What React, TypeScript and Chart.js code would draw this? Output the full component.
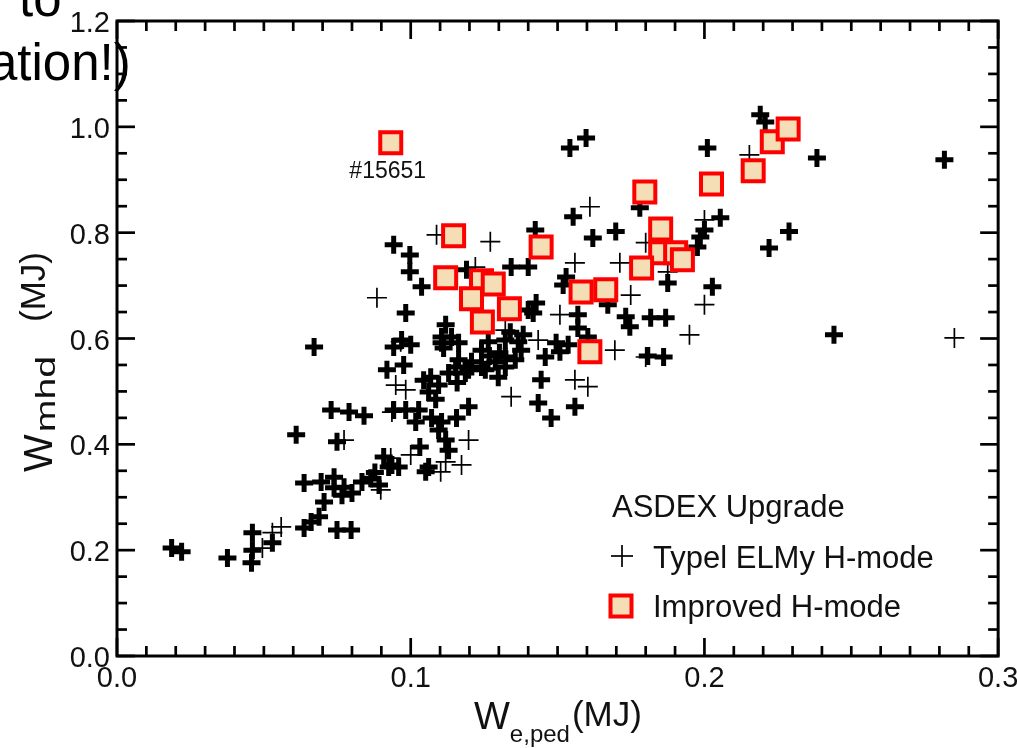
import React, { useEffect, useRef } from 'react';
import { Chart, registerables } from 'chart.js';

Chart.register(...registerables);

// ---- axes ----
const xMin = 0.0;
const xMax = 0.3;
const yMin = 0.0;
const yMax = 1.2;
const xTickValues = [0.0, 0.1, 0.2, 0.3];
const xTickLabels = ['0.0', '0.1', '0.2', '0.3'];
const yTickValues = [0.0, 0.2, 0.4, 0.6, 0.8, 1.0, 1.2];
const yTickLabels = ['0.0', '0.2', '0.4', '0.6', '0.8', '1.0', '1.2'];
const xMinorStep = 0.01;
const yMinorStep = 0.05;

// ---- texts ----
const legendTitle = 'ASDEX Upgrade';
const improvedName = 'Improved H-mode';
const elmyName = 'Typel ELMy H-mode';
const annotationText = '#15651';

// ---- Improved H-mode (squares) ----
const improvedX = [0.0932, 0.1146, 0.1444, 0.1119, 0.1241, 0.1281, 0.1207, 0.1336, 0.1244, 0.158, 0.1664,
  0.161, 0.1797, 0.1851, 0.1851, 0.1902, 0.1925, 0.1786, 0.2024, 0.2166, 0.2231, 0.2285];
const improvedY = [0.970, 0.794, 0.773, 0.715, 0.709, 0.703, 0.675, 0.656, 0.631, 0.688, 0.692,
  0.575, 0.877, 0.807, 0.762, 0.762, 0.749, 0.733, 0.892, 0.917, 0.972, 0.996];

// ---- Type I ELMy H-mode (crosses, bold print) ----
const elmyX = [0.0186, 0.022, 0.0376, 0.0461, 0.0461, 0.0458, 0.0529, 0.0637, 0.0661, 0.0688, 0.0705, 0.0749,
  0.0797, 0.0637, 0.0695, 0.0739, 0.0766, 0.08, 0.0834, 0.0864, 0.0892, 0.061, 0.0729, 0.079, 0.0841, 0.0749,
  0.0671, 0.0908, 0.0936, 0.0925, 0.0959, 0.0919, 0.0976, 0.0942, 0.1, 0.1105, 0.1112, 0.0942, 0.0983, 0.1027,
  0.1017, 0.1071, 0.1105, 0.1156, 0.1197, 0.1095, 0.1119, 0.1129, 0.1061, 0.1051, 0.1068, 0.1095, 0.1061,
  0.1153, 0.1197, 0.1241, 0.1163, 0.1129, 0.1186, 0.1254, 0.1288, 0.1322, 0.1356, 0.1376, 0.1241, 0.1264,
  0.1119, 0.1139, 0.1298, 0.1322, 0.1458, 0.1508, 0.1444, 0.1434, 0.1559, 0.1478, 0.1495, 0.1536, 0.1569,
  0.1603, 0.1339, 0.1366, 0.1427, 0.1417, 0.1569, 0.1732, 0.1746, 0.1817, 0.1868, 0.1807, 0.1861, 0.2441,
  0.1671, 0.2027, 0.1875, 0.1976, 0.1986, 0.2, 0.2054, 0.178, 0.1698, 0.162, 0.1553, 0.1424, 0.1597, 0.1542,
  0.219, 0.2207, 0.201, 0.2383, 0.2817, 0.2288, 0.222, 0.0942, 0.0997, 0.0997, 0.1037, 0.0983, 0.119, 0.1342,
  0.14, 0.1529, 0.1519, 0.14, 0.1322, 0.0969, 0.1105, 0.1163, 0.0739, 0.0773,
  0.1044, 0.1085, 0.1158, 0.1207, 0.1302, 0.1031, 0.0878, 0.1268, 0.1383];
const elmyY = [0.204, 0.197, 0.185, 0.233, 0.2, 0.176, 0.214, 0.242, 0.253, 0.263, 0.291, 0.238,
  0.238, 0.327, 0.329, 0.318, 0.304, 0.308, 0.329, 0.336, 0.323, 0.418, 0.465, 0.461, 0.454, 0.405,
  0.584, 0.376, 0.361, 0.357, 0.357, 0.541, 0.55, 0.584, 0.588, 0.603, 0.582, 0.465, 0.465, 0.465,
  0.442, 0.45, 0.442, 0.45, 0.471, 0.427, 0.408, 0.389, 0.357, 0.348, 0.527, 0.512, 0.499,
  0.546, 0.541, 0.546, 0.56, 0.535, 0.535, 0.541, 0.556, 0.546, 0.56, 0.578, 0.578, 0.594,
  0.626, 0.603, 0.527, 0.565, 0.565, 0.575, 0.522, 0.478, 0.471, 0.45, 0.592, 0.588, 0.62,
  0.603, 0.612, 0.594, 0.667, 0.648, 0.645, 0.641, 0.622, 0.639, 0.639, 0.567, 0.565, 0.607,
  0.664, 0.698, 0.705, 0.773, 0.792, 0.805, 0.828, 0.847, 0.802, 0.79, 0.83, 0.805, 0.979, 0.96,
  1.023, 1.009, 0.96, 0.941, 0.938, 0.802, 0.771, 0.777, 0.758, 0.726, 0.698, 0.648, 0.73, 0.735,
  0.735, 0.716, 0.701, 0.654, 0.597, 0.597, 0.592, 0.592, 0.338, 0.319,
  0.521, 0.485, 0.517, 0.556, 0.573, 0.395, 0.347, 0.567, 0.607];

// ---- Type I ELMy H-mode (crosses, light print) ----
const elmyLightX = [0.0495, 0.0529, 0.0559, 0.0898, 0.0773, 0.0949, 0.0966, 0.0983, 0.0936, 0.0932, 0.1,
  0.1119, 0.1173, 0.1102, 0.1197, 0.1342, 0.1559, 0.1603, 0.1434, 0.1508, 0.1695, 0.1749, 0.1712, 0.1875,
  0.2, 0.1949, 0.2851, 0.2, 0.2153, 0.161, 0.18, 0.1559, 0.1271, 0.1088, 0.122, 0.0885, 0.18, 0.1322];
const elmyLightY = [0.204, 0.233, 0.244, 0.314, 0.408, 0.512, 0.594, 0.503, 0.461, 0.374, 0.38,
  0.367, 0.361, 0.348, 0.408, 0.49, 0.522, 0.509, 0.597, 0.645, 0.578, 0.682, 0.743, 0.726,
  0.664, 0.607, 0.601, 0.824, 0.947, 0.849, 0.781, 0.743, 0.783, 0.796, 0.735, 0.677, 0.565, 0.616];

const toPoints = (xs: number[], ys: number[]) => xs.map((v, i) => ({ x: v, y: ys[i] }));

const FONT = "'Liberation Sans', Arial, sans-serif";
const SQUARE_FILL = '#f5deb6';
const SQUARE_EDGE = '#ff0000';

const decorPlugin = {
  id: 'decor',
  afterDraw(chart: any) {
    const { ctx, chartArea: a } = chart;
    const xs = chart.scales.x;
    const ys = chart.scales.y;
    ctx.save();
    ctx.strokeStyle = '#000';
    ctx.fillStyle = '#000';

    // frame
    ctx.lineWidth = 3;
    ctx.strokeRect(a.left, a.top, a.right - a.left, a.bottom - a.top);

    const seg = (x1: number, y1: number, x2: number, y2: number) => {
      ctx.beginPath();
      ctx.moveTo(x1, y1);
      ctx.lineTo(x2, y2);
      ctx.stroke();
    };
    ctx.lineWidth = 2.7;
    const nx = Math.round((xMax - xMin) / xMinorStep);
    for (let i = 0; i <= nx; i++) {
      const v = xMin + i * xMinorStep;
      const major = xTickValues.some((t) => Math.abs(t - v) < 1e-6);
      const len = major ? 18 : 10;
      const px = xs.getPixelForValue(v);
      seg(px, a.bottom, px, a.bottom - len);
      seg(px, a.top, px, a.top + len);
    }
    const ny = Math.round((yMax - yMin) / yMinorStep);
    for (let i = 0; i <= ny; i++) {
      const v = yMin + i * yMinorStep;
      const major = yTickValues.some((t) => Math.abs(t - v) < 1e-6);
      const len = major ? 18 : 10;
      const py = ys.getPixelForValue(v);
      seg(a.left, py, a.left + len, py);
      seg(a.right, py, a.right - len, py);
    }

    // tick labels
    ctx.fillStyle = '#111';
    ctx.font = `29px ${FONT}`;
    ctx.textBaseline = 'alphabetic';
    ctx.textAlign = 'center';
    xTickValues.forEach((v, i) => {
      ctx.fillText(xTickLabels[i], xs.getPixelForValue(v), a.bottom + 31);
    });
    ctx.textAlign = 'right';
    yTickValues.forEach((v, i) => {
      ctx.fillText(yTickLabels[i], a.left - 7, ys.getPixelForValue(v) + 11);
    });

    // x axis title: W_e,ped(MJ)
    ctx.textAlign = 'left';
    let cx = 474;
    ctx.font = `38px ${FONT}`;
    ctx.fillText('W', cx, 729);
    cx += ctx.measureText('W').width;
    ctx.font = `24px ${FONT}`;
    ctx.fillText('e,ped', cx, 742);
    cx += ctx.measureText('e,ped').width;
    ctx.font = `35px ${FONT}`;
    ctx.fillText('(MJ)', cx + 2, 726);

    // y axis title: W_mhd (MJ)
    ctx.save();
    ctx.translate(52, 472);
    ctx.rotate(-Math.PI / 2);
    ctx.font = `40px ${FONT}`;
    ctx.fillText('W', 0, 0);
    const wW = ctx.measureText('W').width;
    ctx.save();
    ctx.translate(wW + 2, 3);
    ctx.scale(1.4, 1);
    ctx.font = `28px ${FONT}`;
    ctx.fillText('mhd', 0, 0);
    ctx.restore();
    ctx.font = `35px ${FONT}`;
    ctx.fillText('(MJ)', 150, -7);
    ctx.restore();

    // annotation below the first improved point
    const meta = chart.getDatasetMeta(0);
    const p = meta.data[0];
    if (p) {
      ctx.font = `23px ${FONT}`;
      ctx.textAlign = 'center';
      ctx.fillStyle = '#111';
      ctx.fillText(annotationText, p.x - 3, p.y + 35);
    }

    // legend
    ctx.textAlign = 'left';
    ctx.fillStyle = '#111';
    ctx.font = `31px ${FONT}`;
    ctx.fillText(legendTitle, 612, 517);
    ctx.lineWidth = 1.7;
    ctx.strokeStyle = '#000';
    seg(611, 556, 633, 556);
    seg(622, 545, 622, 567);
    ctx.fillText(elmyName, 653, 568);
    ctx.fillStyle = SQUARE_FILL;
    ctx.fillRect(610.5, 595.5, 21, 21);
    ctx.strokeStyle = SQUARE_EDGE;
    ctx.lineWidth = 4;
    ctx.strokeRect(610.5, 595.5, 21, 21);
    ctx.fillStyle = '#111';
    ctx.fillText(improvedName, 653, 617);

    // overlapping slide text fragments
    ctx.fillStyle = '#000';
    ctx.font = `51px ${FONT}`;
    ctx.fillText('to', 19, 16);
    ctx.fillText('ation!)', -11, 80);

    ctx.restore();
  },
};

export default function App() {
  const ref = useRef<HTMLCanvasElement | null>(null);
  useEffect(() => {
    document.body.style.margin = '0';
    const canvas = ref.current;
    if (!canvas) return;
    const chart = new Chart(canvas, {
      type: 'scatter',
      data: {
        datasets: [
          {
            label: improvedName,
            data: toPoints(improvedX, improvedY),
            pointStyle: 'rect',
            pointRadius: 14.85,
            pointBorderWidth: 4,
            pointBorderColor: SQUARE_EDGE,
            pointBackgroundColor: SQUARE_FILL,
            order: 0,
          },
          {
            label: elmyName,
            data: toPoints(elmyX, elmyY),
            pointStyle: 'cross',
            pointRadius: 9,
            pointBorderWidth: 5,
            pointBorderColor: '#000',
            order: 1,
          },
          {
            label: elmyName + ' ',
            data: toPoints(elmyLightX, elmyLightY),
            pointStyle: 'cross',
            pointRadius: 10,
            pointBorderWidth: 1.7,
            pointBorderColor: '#000',
            order: 2,
          },
        ],
      } as any,
      options: {
        responsive: false,
        animation: false,
        events: [],
        layout: { padding: { left: 117, right: 15, top: 21, bottom: 92 } },
        scales: {
          x: { type: 'linear', min: xMin, max: xMax, display: false },
          y: { type: 'linear', min: yMin, max: yMax, display: false },
        },
        plugins: { legend: { display: false }, tooltip: { enabled: false } },
      } as any,
      plugins: [decorPlugin],
    });
    return () => chart.destroy();
  }, []);
  return (
    <div style={{ width: 1017, height: 748, background: '#fff' }}>
      <canvas ref={ref} width={1017} height={748} style={{ display: 'block' }} />
    </div>
  );
}
